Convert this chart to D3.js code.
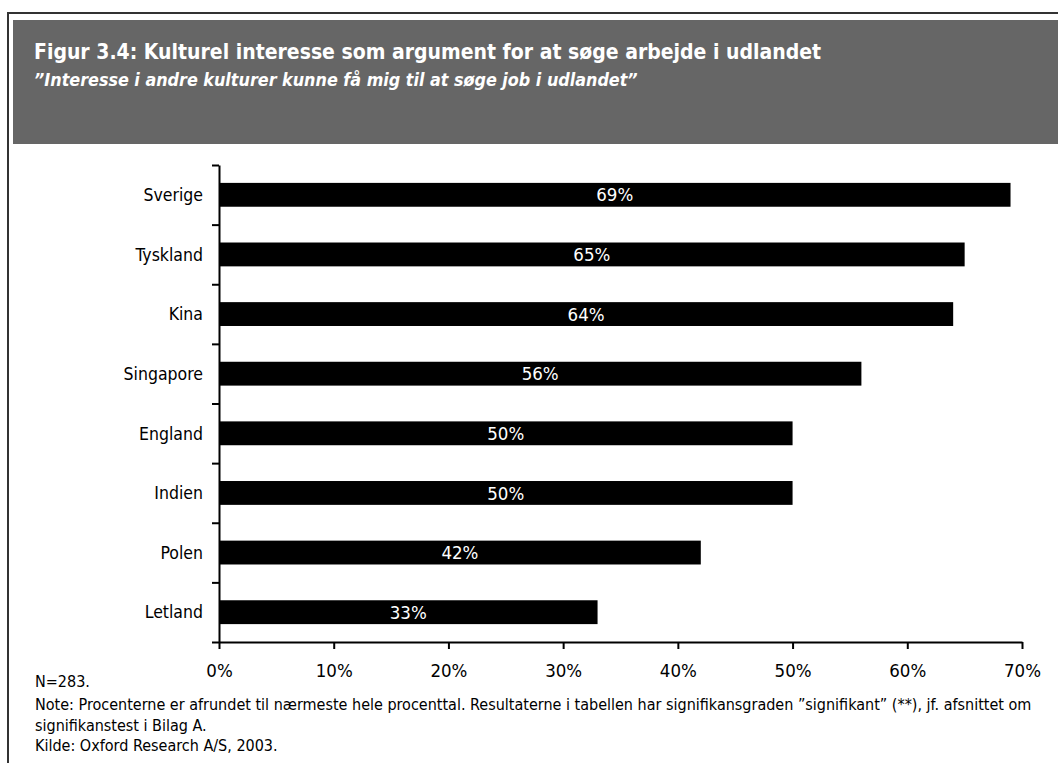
<!DOCTYPE html>
<html lang="da">
<head>
<meta charset="utf-8">
<script src="https://cdn.jsdelivr.net/npm/d3@7"></script>
<style>
  html, body { margin: 0; padding: 0; background: #fff; }
  svg { display: block; }
  text { font-family: "DejaVu Sans Condensed", "DejaVu Sans", sans-serif; font-stretch: condensed; }
</style>
</head>
<body>
<svg id="chart" width="1058" height="763"></svg>
<script>
// Survey results: share who would seek work abroad out of interest in other cultures
const countries = ["Sverige", "Tyskland", "Kina", "Singapore", "England", "Indien", "Polen", "Letland"];
const shares = [0.69, 0.65, 0.64, 0.56, 0.50, 0.50, 0.42, 0.33];
const xTicks = [0, 0.1, 0.2, 0.3, 0.4, 0.5, 0.6, 0.7];

const titleText = "Figur 3.4: Kulturel interesse som argument for at søge arbejde i udlandet";
const subtitleText = "\u201DInteresse i andre kulturer kunne få mig til at søge job i udlandet\u201D";
const footnotes = [
  "N=283.",
  "Note: Procenterne er afrundet til nærmeste hele procenttal. Resultaterne i tabellen har signifikansgraden \u201Dsignifikant\u201D (**), jf. afsnittet om",
  "signifikanstest i Bilag A.",
  "Kilde: Oxford Research A/S, 2003."
];

const svg = d3.select("#chart");

// Frame around the figure
svg.append("path")
  .attr("d", "M8,763 V13 H1058")
  .attr("fill", "none")
  .attr("stroke", "#333")
  .attr("stroke-width", 2);

// Header band
svg.append("rect")
  .attr("x", 13).attr("y", 20)
  .attr("width", 1045).attr("height", 124)
  .attr("fill", "#666666");

svg.append("text")
  .attr("x", 34).attr("y", 59)
  .attr("fill", "#fff")
  .attr("font-size", 21)
  .attr("font-weight", "bold")
  .text(titleText);

svg.append("text")
  .attr("x", 34).attr("y", 86)
  .attr("fill", "#fff")
  .attr("font-size", 17.8)
  .attr("font-weight", "bold")
  .attr("font-style", "italic")
  .text(subtitleText);

// Scales
const x = d3.scaleLinear().domain([0, 0.7]).range([219, 1022]);
const y = d3.scaleBand().domain(countries).range([165, 642])
  .paddingInner(0.6).paddingOuter(0.3);
const yEdges = d3.scaleLinear().domain([0, countries.length]).range([165, 642]);

// Bars
svg.append("g").selectAll("rect")
  .data(countries)
  .join("rect")
  .attr("x", x(0))
  .attr("y", d => y(d))
  .attr("width", (d, i) => x(shares[i]) - x(0))
  .attr("height", y.bandwidth())
  .attr("fill", "#000");

// Value labels inside bars
svg.append("g").selectAll("text")
  .data(countries)
  .join("text")
  .attr("x", (d, i) => (x(0) + x(shares[i])) / 2)
  .attr("y", d => y(d) + y.bandwidth() / 2)
  .attr("dy", "0.36em")
  .attr("text-anchor", "middle")
  .attr("fill", "#fff")
  .attr("font-size", 18.5)
  .text((d, i) => d3.format(".0%")(shares[i]));

// Category axis (ticks between categories)
const yAxis = svg.append("g")
  .attr("transform", `translate(${x(0)},0)`)
  .call(d3.axisLeft(yEdges).tickValues(d3.range(countries.length + 1))
    .tickFormat("").tickSize(7).tickSizeOuter(0));
yAxis.select(".domain").attr("stroke", "#000").attr("stroke-width", 2);
yAxis.selectAll(".tick line").attr("stroke", "#000").attr("stroke-width", 2);

// Category labels
svg.append("g").selectAll("text")
  .data(countries)
  .join("text")
  .attr("x", 203)
  .attr("y", d => y(d) + y.bandwidth() / 2)
  .attr("dy", "0.36em")
  .attr("text-anchor", "end")
  .attr("fill", "#000")
  .attr("font-size", 17.5)
  .text(d => d);

// Value axis
const xAxis = svg.append("g")
  .attr("transform", `translate(0,${yEdges(countries.length)})`)
  .call(d3.axisBottom(x).tickValues(xTicks).tickFormat(d3.format(".0%"))
    .tickSize(7).tickSizeOuter(0).tickPadding(15));
xAxis.select(".domain").attr("stroke", "#000").attr("stroke-width", 2);
xAxis.selectAll(".tick line").attr("stroke", "#000").attr("stroke-width", 2);
xAxis.selectAll(".tick text")
  .attr("fill", "#000")
  .attr("font-size", 18.5)
  .attr("font-family", "\"DejaVu Sans Condensed\", \"DejaVu Sans\", sans-serif");

// Footnotes
svg.append("g").selectAll("text")
  .data(footnotes)
  .join("text")
  .attr("x", 35)
  .attr("y", (d, i) => [687, 710, 731, 751][i])
  .attr("fill", "#000")
  .attr("font-size", 16)
  .text(d => d);
</script>
</body>
</html>
